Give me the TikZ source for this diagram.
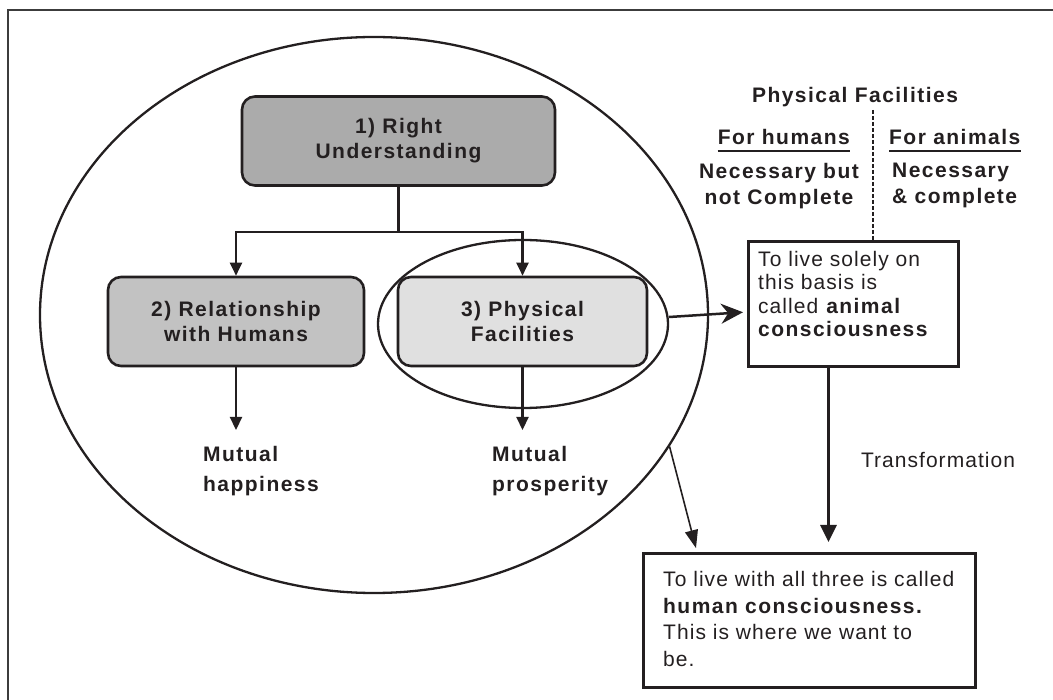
\documentclass[tikz,border=0pt]{standalone}
\usepackage{fontspec}
\setmainfont[LetterSpace=5,BoldFeatures={LetterSpace=7}]{Liberation Sans}
\usetikzlibrary{shapes,arrows.meta,positioning}
\definecolor{ink}{HTML}{231F20}
\definecolor{frameline}{HTML}{3C3C3C}
\definecolor{shadeA}{HTML}{ABABAB}
\definecolor{shadeB}{HTML}{C2C2C2}
\definecolor{shadeC}{HTML}{E0E0E0}

\begin{document}
\begin{tikzpicture}[x=1pt, y=-1pt,
        every node/.style={text=ink, inner sep=0pt, font=\fontsize{21}{25}\selectfont},
        ]
        \tikzstyle{pillar} = [draw=ink, line width=2.6pt, rounded corners=13pt, align=center, minimum height=89pt, font=\fontsize{21}{25}\selectfont\bfseries];
        \tikzstyle{ringline} = [draw=ink, line width=2.3pt, ellipse];
        \tikzstyle{notebox} = [draw=ink, line width=3pt, anchor=north west];
        \tikzstyle{heading} = [font=\fontsize{21}{26}\selectfont\bfseries];
        \tikzstyle{stem} = [draw=ink, line width=2.2pt];
        \tikzstyle{flow} = [stem, -{Triangle[length=13pt,width=12pt]}];
        \useasboundingbox (0,0) rectangle (1053,700);
        \draw[frameline, line width=2pt] (1053,10) -- (8,10) -- (8,700);

        \node[ringline, minimum width=668pt, minimum height=556pt] (world) at (374,315) {};
        \node[ringline, minimum width=290pt, minimum height=168pt] (focus) at (523,324) {};

        \node[pillar, fill=shadeA, minimum width=313pt] (underst) at (398.5,141) {1) Right\\Understanding};
        \node[pillar, fill=shadeB, minimum width=256pt] (rel) at (236,321.5) {2) Relationship\\with Humans};
        \node[pillar, fill=shadeC, minimum width=249pt] (phys) at (522.5,321.5) {3) Physical\\Facilities};
        \coordinate (fork) at ([yshift=-45pt]underst.south);
        \node[heading, font=\fontsize{21}{30}\selectfont\bfseries, align=left, anchor=north west] (happy) at (203,446) {Mutual\\happiness};
        \node[heading, font=\fontsize{21}{30}\selectfont\bfseries, align=left, anchor=north west] (wealth) at (492,446) {Mutual\\prosperity};

        \draw[stem] (underst.south) -- (fork);
        \draw[flow] (fork) -| (rel.north);
        \draw[flow] (fork) -| (phys.north);
        \draw[flow, shorten >=16pt] (rel.south) -- (rel.south |- happy.north);
        \draw[flow, shorten >=16pt] (phys.south) -- (phys.south |- wealth.north);

        \node[heading, anchor=base] (pf) at (855,103) {Physical Facilities};
        \node[heading, anchor=base east, inner ysep=6pt] (forhum) at (850,145) {For humans};
        \node[heading, anchor=base west, inner ysep=6pt] (foranim) at (889,145) {For animals};
        \draw[ink, line width=2pt] (forhum.south west) -- (forhum.south east);
        \draw[ink, line width=2pt] (foranim.south west) -- (foranim.south east);
        \node[heading, align=center, anchor=north] (humneed) at (779,163) {Necessary but\\not Complete};
        \node[heading, align=left, anchor=north west] (animneed) at (892,163) {Necessary\\\& complete};

        \coordinate (split) at (873,110);
        \node[notebox, minimum width=210pt, minimum height=125pt] (animal) at (747,240) {};
        \node[align=left, anchor=north west, font=\fontsize{21}{23.4}\selectfont] (animaltxt) at (758,251) {To live solely on\\this basis is\\called \textbf{animal}\\\textbf{consciousness}};
        \draw[ink, line width=2.5pt, dash pattern=on 4pt off 2pt] (split) -- (split |- animal.north);
        \draw[ink, line width=2.5pt, -{Stealth[length=22pt,width=20pt]}, shorten >=4pt] ([yshift=7pt]focus.east) -- ([yshift=-8pt]animal.west);

        \node[notebox, minimum width=332pt, minimum height=134pt] (human) at (642,552) {};
        \node[align=left, anchor=north west, font=\fontsize{21}{26.7}\selectfont] (humantxt) at (663,571) {To live with all three is called\\\textbf{human consciousness.}\\This is where we want to\\be.};
        \draw[flow, line width=3pt, -{Triangle[length=17pt,width=16pt]}, shorten >=10pt] ([xshift=-25pt]animal.south) -- node[right=31pt] (trans) {Transformation} ([xshift=-25pt]animal.south |- human.north);
        \draw[ink, line width=1.6pt, -{Triangle[length=18pt,width=13pt]}, shorten >=4pt] (world.-24) -- ([xshift=55pt]human.north west);
\end{tikzpicture}
\end{document}
